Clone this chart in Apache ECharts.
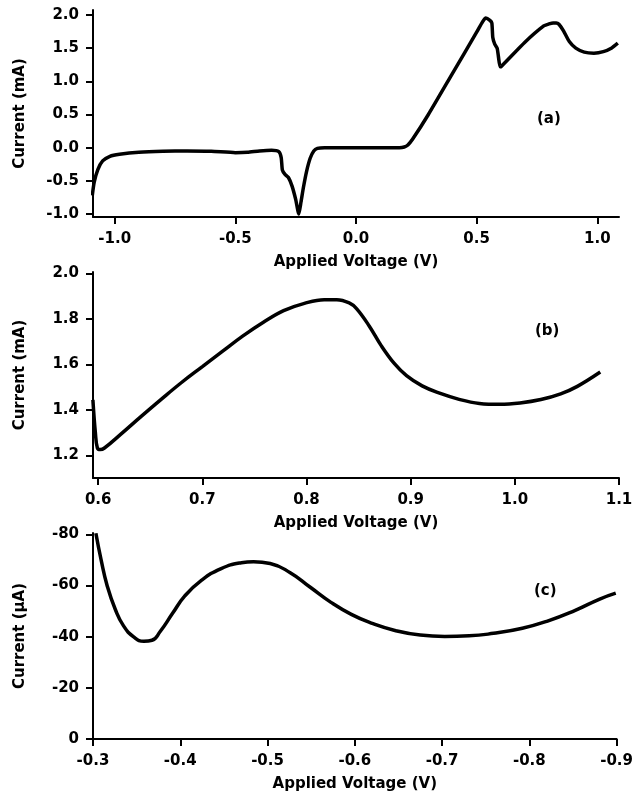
<!DOCTYPE html>
<html>
<head>
<meta charset="utf-8">
<script src="https://cdn.jsdelivr.net/npm/echarts@6.0.0/dist/echarts.min.js"></script>
<style>
html, body { margin: 0; padding: 0; background: #fff; }
#main { width: 636px; height: 800px; }
</style>
</head>
<body>
<div id="main"></div>
<script>
// (a) full sweep, current in mA
var voltA = [-1.093, -1.085, -1.07, -1.05, -1.02, -0.98, -0.9, -0.8, -0.7, -0.6, -0.5, -0.45, -0.4, -0.35, -0.32,
    -0.31, -0.305, -0.295, -0.28, -0.265, -0.25, -0.237, -0.228, -0.218, -0.205, -0.19, -0.175, -0.16, -0.13,
    0.0, 0.18, 0.2, 0.215, 0.235, 0.3, 0.4, 0.5, 0.525, 0.538, 0.555, 0.563, 0.567, 0.575, 0.585, 0.59,
    0.597, 0.602, 0.7, 0.778, 0.8, 0.817, 0.83, 0.841, 0.86, 0.884, 0.911, 0.946, 0.986,
    1.025, 1.06, 1.085];
var currA = [-0.72, -0.52, -0.33, -0.2, -0.13, -0.1, -0.07, -0.055, -0.05, -0.055, -0.075, -0.07, -0.05, -0.04, -0.06,
    -0.15, -0.34, -0.4, -0.45, -0.58, -0.78, -1.0, -0.82, -0.6, -0.36, -0.16, -0.05, -0.01, 0.0,
    0.0, 0.0, 0.01, 0.04, 0.13, 0.5, 1.12, 1.74, 1.9, 1.955, 1.92, 1.88, 1.66, 1.56, 1.5, 1.38,
    1.22, 1.225, 1.59, 1.835, 1.865, 1.88, 1.88, 1.86, 1.76, 1.6, 1.5, 1.44, 1.425,
    1.447, 1.503, 1.575];

// (b) detail of the high-voltage region, mA
var voltB = [0.5949, 0.5973, 0.5992, 0.602, 0.606, 0.6215, 0.641, 0.661, 0.68, 0.7, 0.7195, 0.739, 0.7586,
    0.778, 0.798, 0.817, 0.829, 0.841, 0.848, 0.86, 0.872, 0.884, 0.896, 0.911, 0.927, 0.9465, 0.966,
    0.9856, 1.005, 1.025, 1.044, 1.06, 1.082];
var currB = [1.444, 1.298, 1.232, 1.225, 1.232, 1.292, 1.37, 1.448, 1.52, 1.59, 1.658, 1.725, 1.785,
    1.836, 1.868, 1.884, 1.884, 1.87, 1.845, 1.77, 1.68, 1.605, 1.55, 1.505, 1.474, 1.446, 1.428,
    1.424, 1.43, 1.445, 1.47, 1.503, 1.566];

// (c) negative bias sweep, µA
var voltC = [-0.3033, -0.3093, -0.3163, -0.3256, -0.335, -0.3466, -0.3583, -0.3676, -0.377, -0.391, -0.405,
    -0.4235, -0.4469, -0.47, -0.484, -0.503, -0.526, -0.549, -0.5727, -0.596, -0.619, -0.647, -0.675,
    -0.703, -0.731, -0.759, -0.792, -0.82, -0.852, -0.88, -0.899];
var currC = [-80.4, -70.0, -59.8, -50.6, -44.2, -39.9, -38.2, -38.6, -42.0, -49.0, -55.8,
    -61.8, -66.6, -68.9, -69.3, -68.6, -65.0, -59.3, -53.4, -48.7, -45.3, -42.3, -40.6,
    -40.1, -40.3, -41.3, -43.3, -46.0, -50.2, -54.6, -57.0];

// tick labels
var ticksAX = [-1.0, -0.5, 0.0, 0.5, 1.0];
var ticksAY = [-1.0, -0.5, 0.0, 0.5, 1.0, 1.5, 2.0];
var ticksBX = [0.6, 0.7, 0.8, 0.9, 1.0, 1.1];
var ticksBY = [1.2, 1.4, 1.6, 1.8, 2.0];
var ticksCX = [-0.3, -0.4, -0.5, -0.6, -0.7, -0.8, -0.9];
var ticksCY = [-80, -60, -40, -20, 0];

var FONT = 'DejaVu Sans';

function pairs(xs, ys) {
    var out = [];
    for (var i = 0; i < xs.length; i++) out.push([xs[i], ys[i]]);
    return out;
}

function xAxisOpt(idx, min, max, ticks, digits, inverse) {
    return {
        type: 'value', gridIndex: idx, min: min, max: max, inverse: !!inverse,
        name: 'Applied Voltage (V)', nameLocation: 'middle', nameGap: 38,
        nameTextStyle: { fontFamily: FONT, fontWeight: 'bold', fontSize: 15, color: '#000' },
        axisLine: { onZero: false, lineStyle: { color: '#000', width: 2 } },
        axisTick: { length: 7, customValues: ticks, lineStyle: { color: '#000', width: 2 } },
        axisLabel: {
            customValues: ticks, margin: 15, color: '#000',
            fontFamily: FONT, fontWeight: 'bold', fontSize: 15,
            formatter: function (v) { return v.toFixed(digits); }
        },
        splitLine: { show: false }
    };
}

function yAxisOpt(idx, min, max, ticks, digits, name, inverse) {
    return {
        type: 'value', gridIndex: idx, min: min, max: max, inverse: !!inverse,
        name: name, nameLocation: 'middle', nameGap: 65,
        nameTextStyle: { fontFamily: FONT, fontWeight: 'bold', fontSize: 15, color: '#000' },
        axisLine: { show: true, onZero: false, lineStyle: { color: '#000', width: 2 } },
        axisTick: { show: true, length: 7, customValues: ticks, lineStyle: { color: '#000', width: 2 } },
        axisLabel: {
            customValues: ticks, margin: 14, color: '#000',
            fontFamily: FONT, fontWeight: 'bold', fontSize: 15,
            formatter: function (v) { return v.toFixed(digits); }
        },
        splitLine: { show: false }
    };
}

function curve(idx, data, smooth) {
    return {
        type: 'line', xAxisIndex: idx, yAxisIndex: idx, data: data,
        showSymbol: false, smooth: smooth, silent: true,
        lineStyle: { color: '#000', width: 3.5 }
    };
}

function panelTag(text, left, top) {
    return {
        text: text, left: left, top: top, padding: 0,
        textStyle: { fontFamily: FONT, fontWeight: 'bold', fontSize: 15, color: '#000' }
    };
}

var chart = echarts.init(document.getElementById('main'), null, { renderer: 'canvas' });
var option = {
    animation: false,
    backgroundColor: '#fff',
    title: [panelTag('(a)', 537, 112), panelTag('(b)', 535, 324), panelTag('(c)', 534, 584)],
    grid: [
        { left: 93, right: 17, top: 10, height: 207 },
        { left: 93, right: 17, top: 272, height: 206 },
        { left: 93, right: 17, top: 533, height: 206 }
    ],
    xAxis: [
        xAxisOpt(0, -1.09, 1.09, ticksAX, 1),
        xAxisOpt(1, 0.595, 1.1, ticksBX, 1),
        xAxisOpt(2, -0.9, -0.3, ticksCX, 1, true)
    ],
    yAxis: [
        yAxisOpt(0, -1.045, 2.075, ticksAY, 1, 'Current (mA)'),
        yAxisOpt(1, 1.1, 2.006, ticksBY, 1, 'Current (mA)'),
        yAxisOpt(2, -80.5, 0, ticksCY, 0, 'Current (\u03bcA)', true)
    ],
    series: [
        curve(0, pairs(voltA, currA), 0.2),
        curve(1, pairs(voltB, currB), 0.4),
        curve(2, pairs(voltC, currC), 0.5)
    ]
};
chart.setOption(option);
</script>
</body>
</html>
